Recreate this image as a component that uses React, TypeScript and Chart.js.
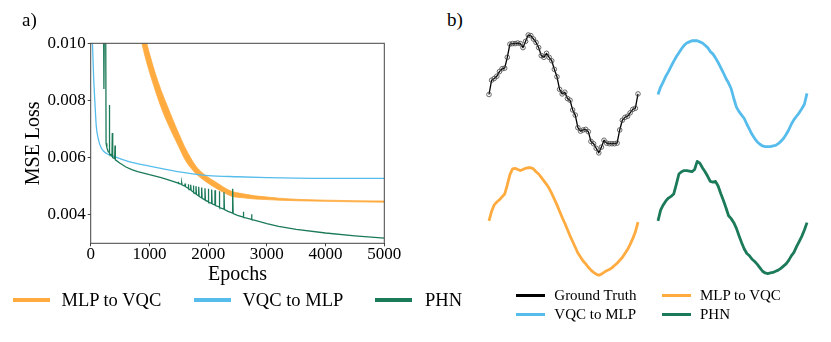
import React, { useEffect, useRef } from 'react';
import { Chart, registerables } from 'chart.js';

Chart.register(...registerables);

// ---------- Panel a) data ----------
const EPOCH_TICKS = [0, 1000, 2000, 3000, 4000, 5000];
const LOSS_TICKS = [0.004, 0.006, 0.008, 0.01];

const VQC_MLP_EPOCHS = [0, 15, 30, 50, 70, 95, 130, 170, 220, 300, 400, 500, 700, 1000, 1300, 1600, 1800, 2000, 2500, 3000, 3500, 4000, 4500, 5000];
const VQC_MLP_LOSS = [0.013, 0.0112, 0.01, 0.0088, 0.008, 0.0071, 0.00665, 0.00638, 0.00622, 0.00611, 0.00603, 0.00596, 0.00583, 0.0057, 0.00558, 0.00547, 0.00541, 0.00537, 0.00533, 0.0053, 0.00528, 0.00527, 0.00527, 0.00527];

const MLP_VQC_EPOCHS = [700, 800, 900, 1000, 1100, 1200, 1300, 1400, 1500, 1600, 1700, 1800, 1900, 2000, 2100, 2200, 2300, 2400, 2600, 2800, 3000, 3200, 3500, 4000, 4500, 5000];
const MLP_VQC_UPPER = [0.0125, 0.0114, 0.01045, 0.00965, 0.00895, 0.00835, 0.00783, 0.00732, 0.00684, 0.00638, 0.006, 0.00568, 0.00547, 0.00531, 0.00518, 0.00505, 0.00492, 0.00482, 0.00473, 0.00466, 0.00462, 0.00458, 0.00454, 0.00451, 0.00449, 0.00448];
const MLP_VQC_LOWER = [0.0118, 0.0107, 0.00975, 0.009, 0.00835, 0.00775, 0.00725, 0.0068, 0.00638, 0.00595, 0.00565, 0.00542, 0.00525, 0.0051, 0.00497, 0.00485, 0.00474, 0.00465, 0.00459, 0.00455, 0.00453, 0.00451, 0.00449, 0.00447, 0.00445, 0.00444];

const PHN_EPOCHS = [0, 150, 215, 225, 235, 255, 262, 275, 300, 312, 317, 324, 362, 368, 375, 408, 414, 420, 500, 600, 700, 800, 1000, 1200, 1350,
  1490, 1492, 1500, 1548, 1550, 1558, 1604, 1606, 1614, 1660, 1662, 1670, 1701, 1703, 1711, 1746, 1748, 1756, 1791, 1793, 1801,
  1837, 1839, 1847, 1888, 1890, 1898, 1944, 1946, 1954, 2001, 2003, 2011, 2058, 2060, 2068, 2115, 2117, 2125, 2188, 2190, 2198,
  2268, 2270, 2278, 2340, 2416, 2418, 2426, 2500, 2598, 2600, 2606, 2738, 2740, 2746, 2800, 3000, 3200, 3500, 4000, 4500, 5000];
const PHN_LOSS = [0.02, 0.016, 0.0125, 0.0084, 0.0115, 0.011, 0.0065, 0.00635, 0.0062, 0.0062, 0.00784, 0.00615, 0.00605, 0.00686, 0.006, 0.00596, 0.00642, 0.00592, 0.0058, 0.00567, 0.00558, 0.00551, 0.0054, 0.0053, 0.0052,
  0.00511, 0.00515, 0.0051, 0.00506, 0.00512, 0.00504, 0.005, 0.00509, 0.00498, 0.00493, 0.00507, 0.00491, 0.00487, 0.00505, 0.00485, 0.0048, 0.00502, 0.00478, 0.00473, 0.005, 0.00471,
  0.00466, 0.00498, 0.00464, 0.00459, 0.00495, 0.00457, 0.00452, 0.00493, 0.0045, 0.00446, 0.00491, 0.00444, 0.0044, 0.00488, 0.00438, 0.00434, 0.00486, 0.00432, 0.00427, 0.00482, 0.00425,
  0.0042, 0.00479, 0.00418, 0.00412, 0.00406, 0.00491, 0.00404, 0.00398, 0.00392, 0.0041, 0.00391, 0.00384, 0.00402, 0.00383, 0.0038, 0.00369, 0.00359, 0.00349, 0.00336, 0.00326, 0.00318];

// ---------- Panel b) data ----------
const GROUND_TRUTH = [0.0, 0.25, 0.28, 0.32, 0.4, 0.45, 0.46, 0.65, 0.88, 0.89, 0.89, 0.9, 0.89, 0.82, 0.93, 1.04, 1.03, 0.97, 0.91, 0.82,
  0.68, 0.65, 0.72, 0.65, 0.59, 0.44, 0.31, 0.09, 0.01, 0.04, -0.07, -0.1, -0.27, -0.36, -0.58, -0.64, -0.62, -0.61, -0.65, -0.82,
  -0.86, -0.94, -1.02, -0.92, -0.8, -0.85, -0.86, -0.86, -0.86, -0.85, -0.62, -0.45, -0.4, -0.38, -0.32, -0.26, -0.24, 0.01];
const PRED_VQC_TO_MLP = [0.0, 0.13, 0.22, 0.32, 0.4, 0.49, 0.58, 0.66, 0.73, 0.8, 0.86, 0.9, 0.92, 0.94, 0.94, 0.94, 0.92, 0.9, 0.86, 0.82,
  0.75, 0.71, 0.64, 0.56, 0.47, 0.38, 0.28, 0.2, 0.1, -0.07, -0.22, -0.3, -0.36, -0.42, -0.52, -0.61, -0.7, -0.77, -0.83, -0.87,
  -0.9, -0.91, -0.91, -0.91, -0.9, -0.89, -0.86, -0.82, -0.77, -0.7, -0.62, -0.52, -0.44, -0.38, -0.32, -0.25, -0.17, 0.02];
const PRED_MLP_TO_VQC = [0.01, 0.18, 0.29, 0.34, 0.38, 0.43, 0.48, 0.64, 0.82, 0.92, 0.93, 0.91, 0.89, 0.91, 0.93, 0.94, 0.94, 0.92, 0.87, 0.83,
  0.77, 0.71, 0.65, 0.58, 0.49, 0.39, 0.29, 0.18, 0.07, -0.03, -0.14, -0.25, -0.35, -0.45, -0.55, -0.62, -0.69, -0.74, -0.8, -0.85,
  -0.89, -0.92, -0.94, -0.92, -0.89, -0.86, -0.84, -0.81, -0.77, -0.73, -0.68, -0.63, -0.56, -0.49, -0.4, -0.3, -0.18, -0.01];
const PRED_PHN = [0.01, 0.2, 0.29, 0.36, 0.41, 0.44, 0.48, 0.65, 0.83, 0.87, 0.89, 0.89, 0.88, 0.87, 0.91, 1.05, 1.02, 0.94, 0.87, 0.79,
  0.7, 0.69, 0.7, 0.62, 0.49, 0.37, 0.24, 0.1, 0.05, -0.02, -0.12, -0.25, -0.37, -0.48, -0.56, -0.6, -0.66, -0.7, -0.75, -0.81,
  -0.87, -0.9, -0.91, -0.9, -0.89, -0.87, -0.85, -0.82, -0.78, -0.74, -0.68, -0.6, -0.54, -0.44, -0.35, -0.26, -0.15, -0.02];
const SAMPLE_INDEX = GROUND_TRUTH.map((_, i) => i);

// ---------- styles ----------
const ORANGE = '#FFAB40';
const BLUE = '#56BCEC';
const GREEN = '#1B7A57';
const BLACK = '#000000';
const SERIF = "'Liberation Serif', 'DejaVu Serif', serif";

const pairs = (xs: number[], ys: number[]) => xs.map((x, i) => ({ x, y: ys[i] }));

const framePlugin = {
  id: 'frame',
  afterDatasetsDraw(chart: any) {
    const { ctx, chartArea: a } = chart;
    ctx.save();
    ctx.strokeStyle = '#444';
    ctx.lineWidth = 1;
    ctx.strokeRect(a.left, a.top, a.right - a.left, a.bottom - a.top);
    ctx.restore();
  },
};

function LossChart() {
  const ref = useRef<HTMLCanvasElement>(null);
  useEffect(() => {
    const chart = new Chart(ref.current!, {
      type: 'line',
      data: {
        datasets: [
          { label: 'MLP to VQC', data: pairs(MLP_VQC_EPOCHS, MLP_VQC_UPPER), borderColor: ORANGE, backgroundColor: ORANGE, borderWidth: 0.8, pointRadius: 0, fill: '+1', cubicInterpolationMode: 'monotone', order: 3 },
          { label: 'MLP to VQC (lower)', data: pairs(MLP_VQC_EPOCHS, MLP_VQC_LOWER), borderColor: ORANGE, backgroundColor: ORANGE, borderWidth: 0.8, pointRadius: 0, fill: false, cubicInterpolationMode: 'monotone', order: 4 },
          { label: 'VQC to MLP', data: pairs(VQC_MLP_EPOCHS, VQC_MLP_LOSS), borderColor: BLUE, borderWidth: 1.3, pointRadius: 0, fill: false, cubicInterpolationMode: 'monotone', order: 1 },
          { label: 'PHN', data: pairs(PHN_EPOCHS, PHN_LOSS), borderColor: GREEN, borderWidth: 1.3, pointRadius: 0, fill: false, order: 0 },
        ] as any,
      },
      options: {
        animation: false,
        responsive: false,
        maintainAspectRatio: false,
        events: [],
        layout: { padding: { top: 43.3, right: 420 - 384.3, left: 0, bottom: 0 } },
        plugins: { legend: { display: false }, tooltip: { enabled: false } },
        scales: {
          x: {
            type: 'linear', min: 0, max: 5000,
            afterBuildTicks: (s: any) => { s.ticks = EPOCH_TICKS.map((v) => ({ value: v })); },
            afterFit: (s: any) => { s.height = 290 - 243.3; },
            grid: { display: true, drawOnChartArea: false, drawTicks: true, tickLength: 3, color: '#444' },
            border: { display: false },
            ticks: { color: BLACK, font: { family: SERIF, size: 17, lineHeight: 1 }, padding: 0, maxRotation: 0, autoSkip: false, callback: (v: any) => String(v) },
            title: { display: true, text: 'Epochs', color: BLACK, font: { family: SERIF, size: 20 }, padding: { top: 0, bottom: 3 } },
          },
          y: {
            type: 'linear', min: 0.003, max: 0.01,
            afterBuildTicks: (s: any) => { s.ticks = LOSS_TICKS.map((v) => ({ value: v })); },
            afterFit: (s: any) => { s.width = 90.7; },
            grid: { display: true, drawOnChartArea: false, drawTicks: true, tickLength: 3, color: '#444' },
            border: { display: false },
            ticks: { color: BLACK, font: { family: SERIF, size: 17 }, padding: 2, autoSkip: false, callback: (v: any) => Number(v).toFixed(3) },
            title: { display: true, text: 'MSE Loss', color: BLACK, font: { family: SERIF, size: 20 }, padding: { top: 22, bottom: 0 } },
          },
        },
      } as any,
      plugins: [framePlugin],
    });
    return () => chart.destroy();
  }, []);
  return <canvas ref={ref} width={420} height={290} style={{ position: 'absolute', left: 0, top: 0, width: 420, height: 290 }} />;
}

function Sample({ values, color, width, markers, left, top }: { values: number[]; color: string; width: number; markers?: boolean; left: number; top: number }) {
  const ref = useRef<HTMLCanvasElement>(null);
  useEffect(() => {
    const chart = new Chart(ref.current!, {
      type: 'line',
      data: {
        labels: SAMPLE_INDEX,
        datasets: [{
          data: values,
          borderColor: color,
          borderWidth: width,
          borderJoinStyle: 'round',
          pointRadius: markers ? 2.3 : 0,
          pointBorderWidth: 0.8,
          pointBorderColor: '#444',
          pointBackgroundColor: 'rgba(255,255,255,0)',
          fill: false,
          clip: false,
        }] as any,
      },
      options: {
        animation: false,
        responsive: false,
        maintainAspectRatio: false,
        events: [],
        layout: { padding: 6 },
        plugins: { legend: { display: false }, tooltip: { enabled: false } },
        scales: {
          x: { display: false, offset: false },
          y: { display: false, min: -1.25, max: 1.25 },
        },
      } as any,
    });
    return () => chart.destroy();
  }, []);
  return <canvas ref={ref} width={161} height={155} style={{ position: 'absolute', left, top, width: 161, height: 155 }} />;
}

const textStyle = (left: number, top: number, size: number): React.CSSProperties => ({
  position: 'absolute', left, top, fontFamily: SERIF, fontSize: size, lineHeight: 1, color: BLACK, whiteSpace: 'nowrap',
});
const swatch = (left: number, top: number, w: number, h: number, color: string): React.CSSProperties => ({
  position: 'absolute', left, top, width: w, height: h, background: color,
});

export default function App() {
  return (
    <div style={{ position: 'fixed', left: 0, top: 0, width: 831, height: 342, background: '#fff', overflow: 'hidden' }}>
      <LossChart />
      <div style={textStyle(22, 10, 19)}>a)</div>
      <div style={textStyle(447, 10, 19)}>b)</div>

      <Sample values={GROUND_TRUTH} color={BLACK} width={1.3} markers left={483} top={17} />
      <Sample values={PRED_VQC_TO_MLP} color={BLUE} width={2.8} left={652} top={17} />
      <Sample values={PRED_MLP_TO_VQC} color={ORANGE} width={2.8} left={483} top={144} />
      <Sample values={PRED_PHN} color={GREEN} width={2.8} left={652} top={144} />

      {/* legend a) */}
      <div style={swatch(13, 298, 37, 4, ORANGE)} />
      <div style={textStyle(61.5, 290.5, 18.5)}>MLP to VQC</div>
      <div style={swatch(194, 298, 37, 4, BLUE)} />
      <div style={textStyle(242.5, 290.5, 18.5)}>VQC to MLP</div>
      <div style={swatch(375, 298, 37, 4, GREEN)} />
      <div style={textStyle(425, 290.5, 18.5)}>PHN</div>

      {/* legend b) */}
      <div style={swatch(516, 294.2, 29, 3, BLACK)} />
      <div style={textStyle(554.3, 288, 15)}>Ground Truth</div>
      <div style={swatch(662, 294.2, 29, 3, ORANGE)} />
      <div style={textStyle(700, 288, 15)}>MLP to VQC</div>
      <div style={swatch(516, 312.5, 29, 3, BLUE)} />
      <div style={textStyle(554.3, 306.5, 15)}>VQC to MLP</div>
      <div style={swatch(662, 312.5, 29, 3, GREEN)} />
      <div style={textStyle(700, 306.5, 15)}>PHN</div>
    </div>
  );
}
